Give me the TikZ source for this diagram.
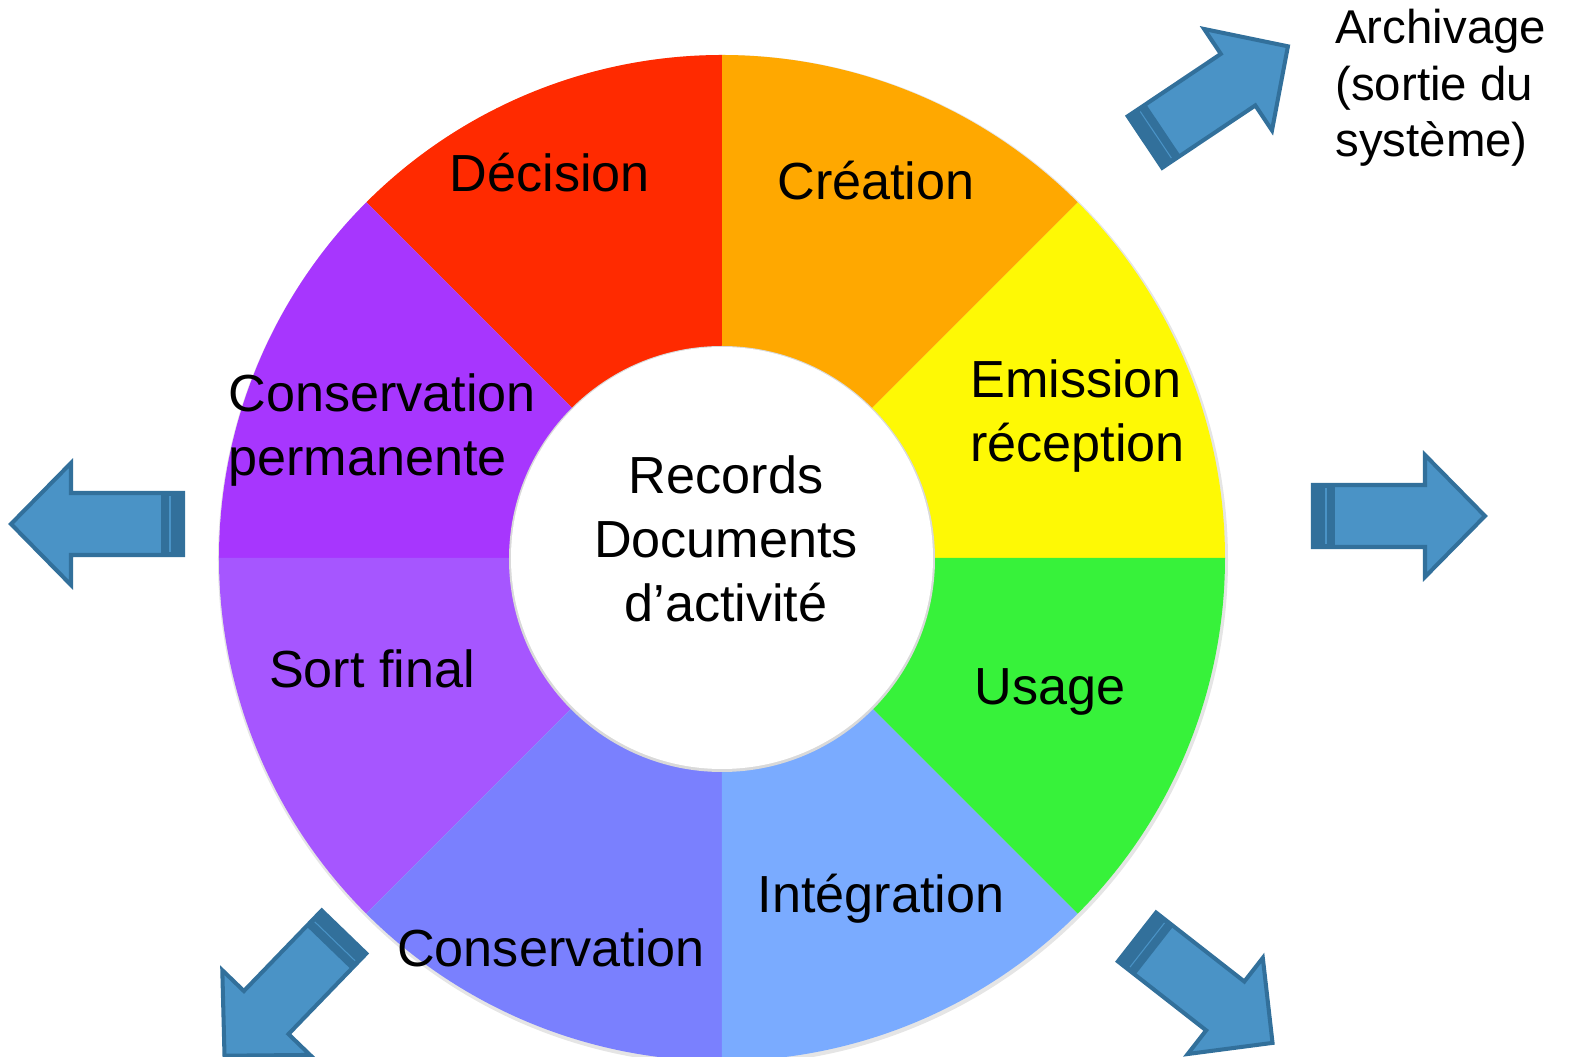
\documentclass[tikz,border=0pt]{standalone}
\usepackage{fontspec}
\setmainfont{Liberation Sans}
\usetikzlibrary{positioning}
\definecolor{decisioncol}{HTML}{FF2A00}
\definecolor{creationcol}{HTML}{FFA800}
\definecolor{emissioncol}{HTML}{FEF905}
\definecolor{usagecol}{HTML}{37F23A}
\definecolor{integrationcol}{HTML}{7AABFF}
\definecolor{conservationcol}{HTML}{7A80FE}
\definecolor{sortcol}{HTML}{A656FF}
\definecolor{permanentecol}{HTML}{A736FE}
\definecolor{arrowfill}{HTML}{4A93C6}
\definecolor{arrowdark}{HTML}{32709B}
\tikzset{stagelabel/.style = {font=\fontsize{29.7}{36.5}\selectfont, inner sep=0pt},
         sidelabel/.style = {font=\fontsize{27}{32.4}\selectfont, inner sep=0pt, align=left},
         bluearrow/.style = {fill=arrowfill, draw=arrowdark, line width=2.3pt, line join=miter}}

\begin{document}
\begin{tikzpicture}[x=0.02cm, y=0.02cm]
    \useasboundingbox (-722,-499) rectangle (847,558);
    \fill [black!10] (1,-2) circle [radius=505];

    \foreach \a/\c in {0/emissioncol, 45/creationcol, 90/decisioncol, 135/permanentecol,
                       180/sortcol, 225/conservationcol, 270/integrationcol, 315/usagecol} {
      \fill [\c] (0,0) -- (\a:503) arc [start angle=\a, delta angle=45, radius=503] -- cycle;
    }

    \fill [black!15] (0,-1) circle [radius=213];
    \fill [white] (0,0) circle [radius=211];

    \node [stagelabel, align=center, anchor=base] (records) at (4,-64) {Records\\Documents\\d’activité};

    \node [stagelabel, anchor=base] (decision) at (-172,366) {Décision};
    \node [stagelabel, anchor=base] (creation) at (154,358) {Création};
    \node [stagelabel, align=left, anchor=base west] (emission) at (248,96) {Emission\\réception};
    \node [stagelabel, anchor=base] (usage) at (328,-147) {Usage};
    \node [stagelabel, anchor=base] (integration) at (159,-355) {Intégration};
    \node [stagelabel, anchor=base] (conservation) at (-171,-409) {Conservation};
    \node [stagelabel, anchor=base] (sortfinal) at (-350,-130) {Sort final};
    \node [stagelabel, align=left, anchor=base west] (permanente) at (-494,82) {Conservation\\permanente};

    \node [sidelabel, anchor=base west] (archivage) at (613,401) {Archivage\\(sortie du\\système)};

    \foreach \x/\y/\r in {423/416/33.8, 591/42/0, -539/34/180, -378/-374/226, 415/-379/-38} {
      \begin{scope}[shift={(\x,\y)}, rotate=\r]
        \draw [bluearrow] (0,-31) -- (112,-31) -- (112,-61) -- (172,0) -- (112,61) -- (112,31) -- (0,31) -- cycle;
        \fill [arrowdark] (0,-31) rectangle (22,31);
        \draw [arrowfill, line width=0.6pt] (13,-28) -- (13,28);
      \end{scope}
    }
  \end{tikzpicture}
\end{document}
